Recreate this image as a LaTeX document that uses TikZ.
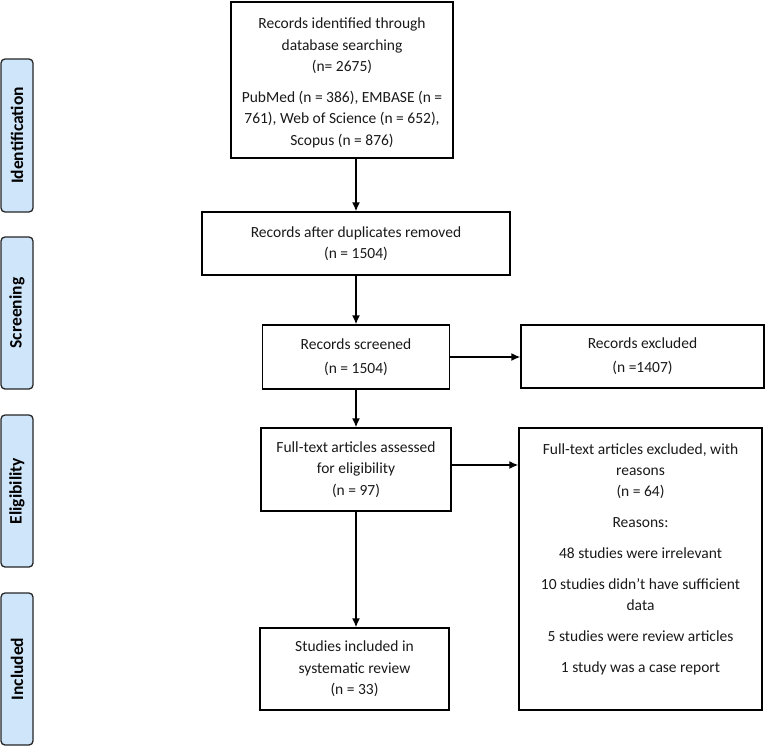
\documentclass[tikz,border=0pt]{standalone}
\usepackage{fontspec}
\setmainfont{Carlito}
\usetikzlibrary{arrows.meta,calc}
\definecolor{phase}{RGB}{207,229,250}
\tikzset{
  box/.style={draw=black, line width=1.4pt, align=center, inner sep=0pt,
    font=\fontsize{15.5}{21.5}\selectfont, text=black!90},
  txt/.style={align=center, inner sep=0pt, font=\fontsize{15.5}{21.5}\selectfont, text=black!90},
  phasebox/.style={draw=black!85, line width=1.3pt, fill=phase, rounded corners=4pt,
    rotate=90, minimum height=32pt, inner sep=0pt,
    font=\fontsize{17.5}{19}\selectfont\bfseries},
  arr/.style={line width=1.5pt, -{Latex[length=9pt,width=8pt]}}
}
\begin{document}
\begin{tikzpicture}[x=1pt,y=-1pt]
\useasboundingbox (0,0) rectangle (767,746);
% phase labels
\node[phasebox, minimum width=153pt] (pid) at (17,135.5) {Identification};
\node[phasebox, minimum width=152pt] (psc) at (17,313) {Screening};
\node[phasebox, minimum width=152pt] (pel) at (17,491) {Eligibility};
\node[phasebox, minimum width=152pt] (pin) at (17,669) {Included};
% boxes
\node[box, minimum width=222pt, minimum height=156pt] (b1) at (342,80) {};
\node[txt] (b1t) at (342,83)
  {Records identified through\\database searching\\(n= 2675)\\[9pt]
   PubMed (n = 386), EMBASE (n =\\761), Web of Science (n = 652),\\Scopus (n = 876)};
\node[box, minimum width=308pt, minimum height=63pt, font=\fontsize{15.5}{20.5}\selectfont] (b2) at (356,243.5)
  {Records after duplicates removed\\(n = 1504)};
\node[box, minimum width=187pt, minimum height=64pt, font=\fontsize{15.5}{24}\selectfont] (b3) at (356,357)
  {Records screened\\(n = 1504)};
\node[box, minimum width=243pt, minimum height=63pt, font=\fontsize{15.5}{24}\selectfont] (x1) at (642.5,356.5)
  {Records excluded\\(n =1407)};
\node[box, minimum width=190pt, minimum height=83pt] (b4) at (356,469.5)
  {Full-text articles assessed\\for eligibility\\(n = 97)};
\node[box, minimum width=243pt, minimum height=282pt] (x2) at (640.5,569) {};
\node[txt, anchor=north, font=\fontsize{15.5}{21}\selectfont]
  (x2t) at (640.5,444)
  {Full-text articles excluded, with\\reasons\\(n = 64)\\[10pt]
   Reasons:\\[10pt]
   48 studies were irrelevant\\[10pt]
   10 studies didn’t have sufficient\\data\\[10pt]
   5 studies were review articles\\[10pt]
   1 study was a case report};
\node[box, minimum width=189pt, minimum height=82pt] (b5) at (354.5,669)
  {Studies included in\\systematic review\\(n = 33)};
% arrows
\draw[arr] (b1.south -| b2.north) -- (b2.north);
\draw[arr] (b2.south) -- (b2.south |- b3.north);
\draw[arr] (b3.east) -- (b3.east -| x1.west);
\draw[arr] (b3.south) -- (b3.south |- b4.north);
\draw[arr] ([yshift=4.5pt]b4.east) -- ([yshift=4.5pt]b4.east -| x2.west);
\draw[arr] (b4.south) -- (b4.south |- b5.north);
\end{tikzpicture}
\end{document}
